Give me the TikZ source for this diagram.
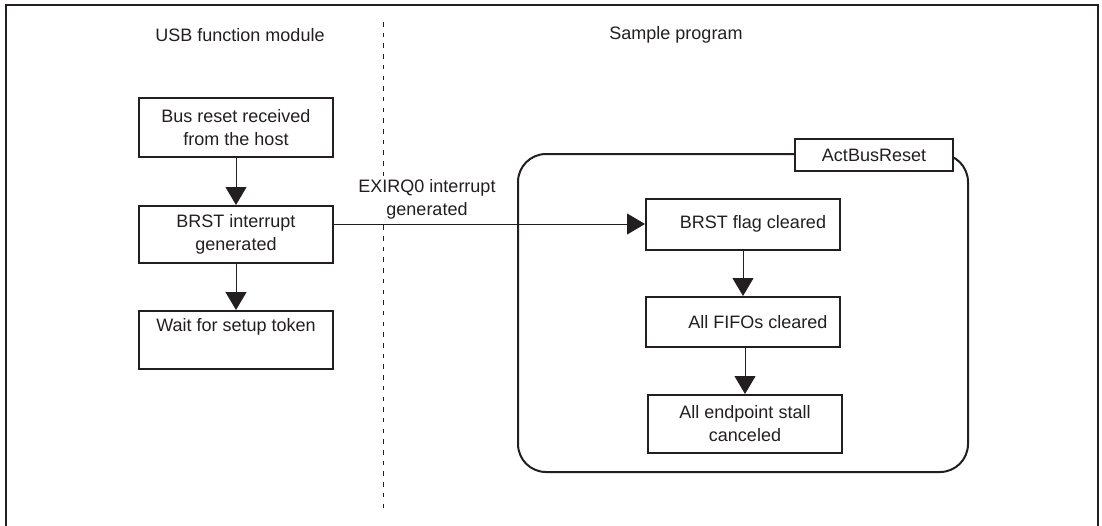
\documentclass[tikz,border=0pt]{standalone}
\usepackage{fontspec}
\setmainfont{Liberation Sans}
\usetikzlibrary{arrows.meta}
\definecolor{ink}{RGB}{35,31,32}
\begin{document}
\begin{tikzpicture}[x=1pt,y=-1pt,
  every node/.style={font=\fontsize{18}{23}\selectfont, text=ink},
  procbox/.style={draw=ink, line width=2pt, fill=white, minimum width=194pt,
    inner sep=0pt, align=center},
  flow/.style={draw=ink, line width=1pt, -{Triangle[length=18pt,width=21pt]}},
  divider/.style={draw=ink, line width=1pt, dash pattern=on 4.5pt off 6.2pt}]
\useasboundingbox (0,0) rectangle (1102,525);

% outer frame
\draw[ink, line width=2.2pt] (6,530) -- (6,5) -- (1098,5) -- (1098,530);

% column divider
\draw[divider] (383,22) -- (383,512);

% column headers
\node (hleft) at (240,35) {USB function module};
\node (hright) at (676,35) {Sample program};

% USB function module side
\node[procbox, minimum height=59pt] (b1) at (236,127.5) {Bus reset received\\from the host};
\node[procbox, minimum height=57pt] (b2) at (236,234.5) {BRST interrupt\\generated};
\node[procbox, minimum height=58pt] (b3) at (236,340) {Wait for setup token\\\strut};

\draw[flow] (b1) -- (b2);
\draw[flow] (b2) -- (b3);

% ActBusReset routine
\draw[ink, line width=2pt, rounded corners=28pt] (518,154) rectangle (968,472);
\node[draw=ink, line width=2pt, fill=white, minimum width=158pt, minimum height=32pt,
  inner sep=0pt] (act) at (874,155) {ActBusReset};

\node[procbox, minimum height=51pt] (f1) at (743,224) {\hspace*{20pt}BRST flag cleared};
\node[procbox, minimum height=50pt] (f2) at (743,322) {\hspace*{30pt}All FIFOs cleared};
\node[procbox, minimum height=58pt] (f3) at (745,424) {All endpoint stall\\canceled};

\draw[flow] (f1) -- (f2);
\draw[flow] (f2.south -| f3.north) -- (f3.north);

% interrupt to the sample program
\node[align=center, fill=white, inner sep=2pt] (irq) at (427,199) {EXIRQ0 interrupt\\generated};
\draw[flow] (b2.east |- f1.west) -- (f1.west);
\end{tikzpicture}
\end{document}
